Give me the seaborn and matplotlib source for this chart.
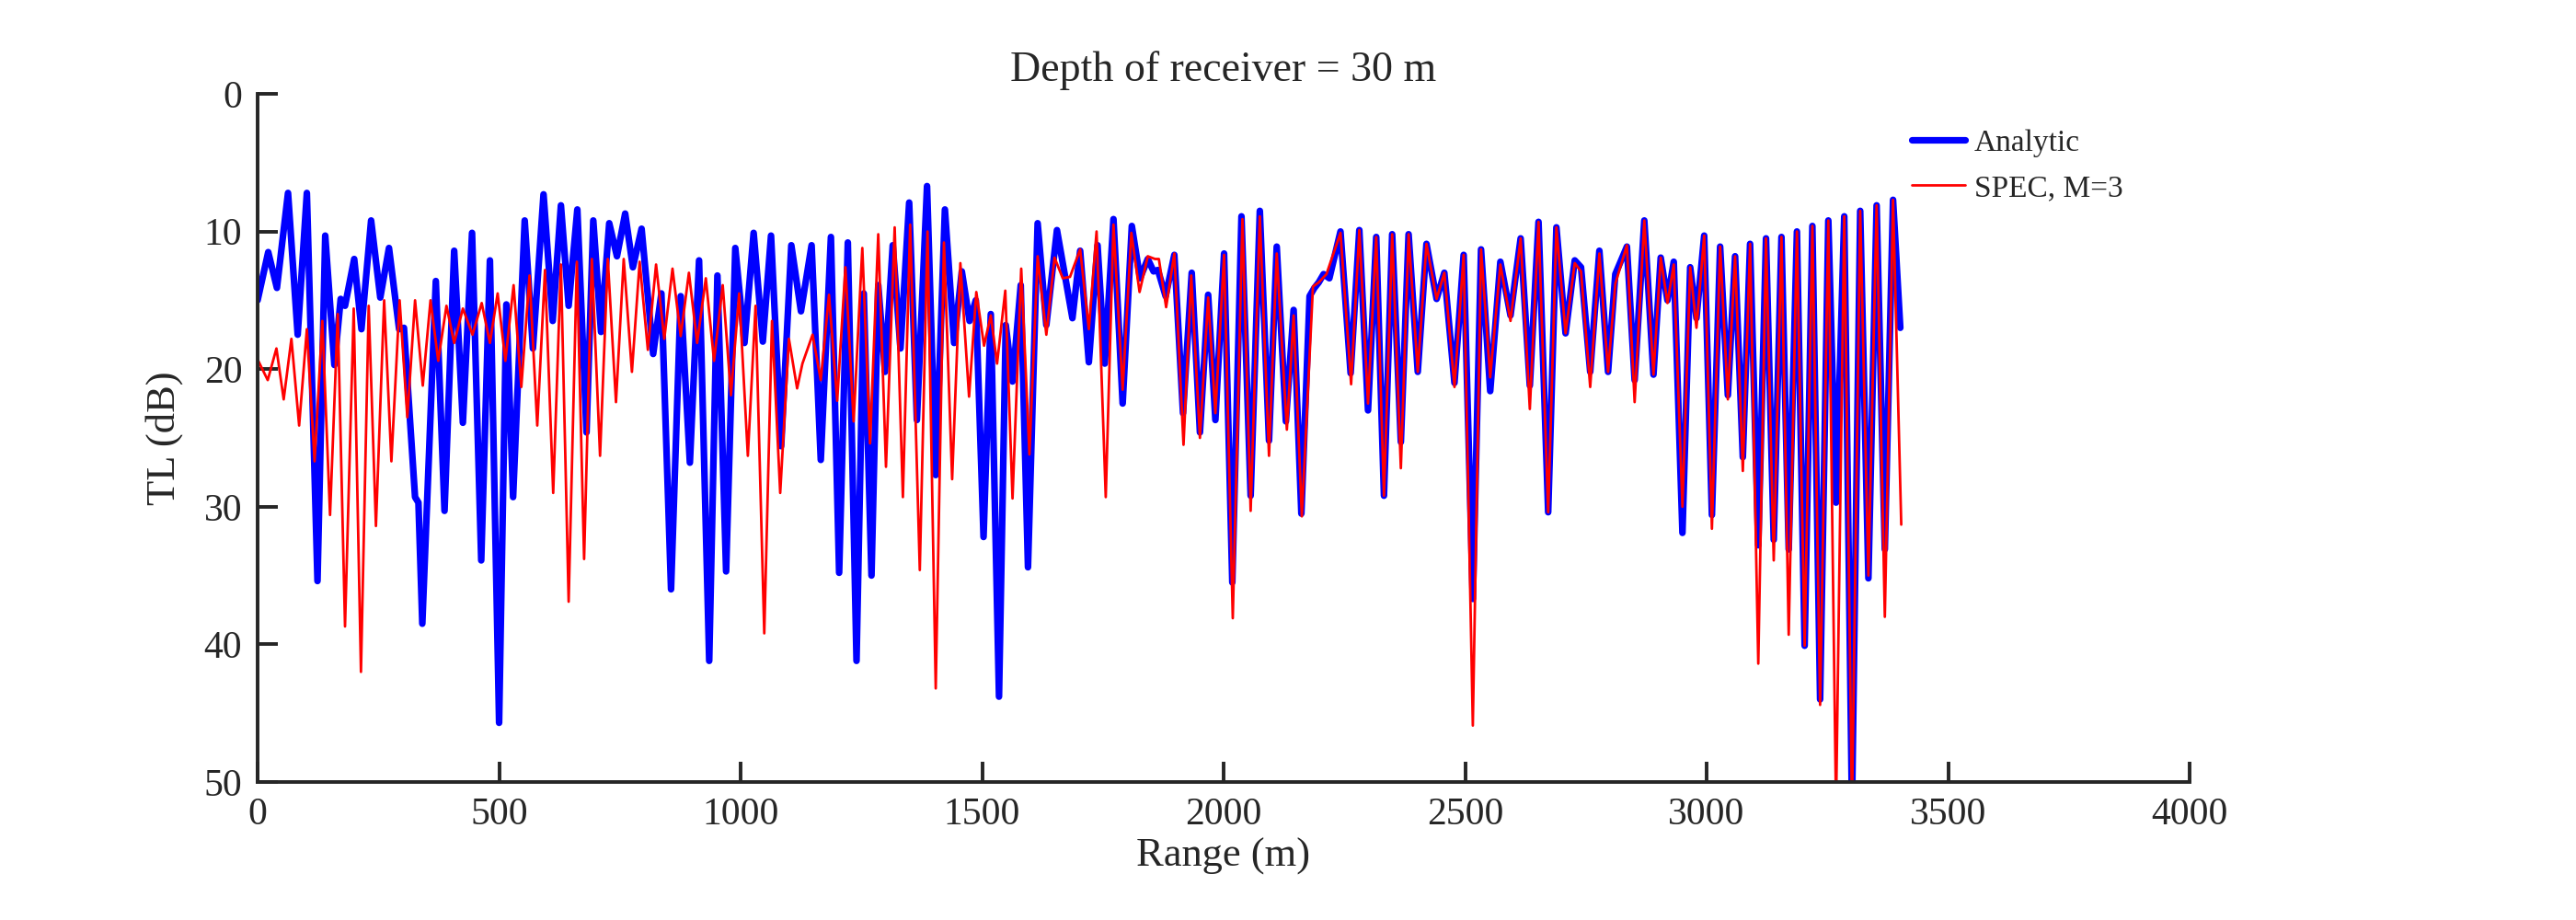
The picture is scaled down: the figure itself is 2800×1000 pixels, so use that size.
import pandas as pd
import matplotlib
matplotlib.use('Agg')
import matplotlib.pyplot as plt
import seaborn as sns

# Transmission loss (range in m, TL in dB)
analytic_range = [
    0, 22, 40, 63, 83, 102, 124, 140, 159, 172, 181, 200, 215, 235, 254, 272,
    293, 303, 326, 333, 341, 369, 387, 407, 425, 444, 463, 481, 500, 515, 529,
    553, 570, 592, 611, 628, 644, 662, 681, 695, 711, 728, 744, 761, 777, 795,
    819, 836, 856, 876, 895, 914, 935, 952, 970, 989, 1008, 1027, 1046, 1063,
    1084, 1105, 1125, 1147, 1166, 1187, 1204, 1222, 1240, 1255, 1271, 1285,
    1299, 1315, 1331, 1349, 1365, 1386, 1404, 1423, 1442, 1458, 1474, 1487,
    1503, 1518, 1535, 1549, 1563, 1580, 1595, 1615, 1633, 1655, 1687, 1703,
    1721, 1739, 1754, 1772, 1791, 1810, 1827, 1843, 1855, 1864, 1880, 1898,
    1916, 1934, 1951, 1968, 1983, 2001, 2018, 2037, 2056, 2075, 2094, 2110,
    2129, 2145, 2161, 2178, 2188, 2197, 2207, 2219, 2242, 2263, 2281, 2299,
    2316, 2332, 2349, 2367, 2383, 2402, 2420, 2441, 2457, 2478, 2497, 2516,
    2533, 2552, 2573, 2594, 2615, 2634, 2652, 2672, 2689, 2708, 2727, 2740,
    2759, 2778, 2796, 2811, 2835, 2851, 2871, 2890, 2905, 2919, 2932, 2950,
    2966, 2979, 2995, 3011, 3028, 3044, 3059, 3075, 3090, 3107, 3123, 3139,
    3155, 3170, 3187, 3203, 3219, 3235, 3252, 3268, 3285, 3301, 3318, 3335,
    3352, 3369, 3386, 3401,
]
analytic_tl = [
    15.0, 11.5, 14.1, 7.2, 17.5, 7.2, 35.4, 10.3, 19.7, 14.9, 15.4, 12.0, 17.1,
    9.2, 14.8, 11.2, 17.1, 17.0, 29.3, 29.7, 38.5, 13.6, 30.3, 11.4, 23.9,
    10.1, 33.9, 12.1, 45.7, 15.3, 29.3, 9.2, 18.5, 7.3, 16.5, 8.1, 15.4, 8.4,
    24.6, 9.2, 17.3, 9.4, 11.8, 8.7, 12.6, 9.8, 18.9, 14.5, 36.0, 14.7, 26.8,
    12.1, 41.2, 13.2, 34.7, 11.2, 18.1, 10.1, 18.0, 10.3, 25.6, 11.0, 15.8,
    11.0, 26.6, 10.4, 34.8, 10.8, 41.2, 14.5, 35.0, 13.9, 20.2, 11.0, 18.5,
    7.9, 23.7, 6.7, 27.7, 8.4, 18.1, 12.9, 16.5, 15.0, 32.2, 16.0, 43.8, 16.8,
    20.9, 13.9, 34.4, 9.4, 16.8, 9.9, 16.3, 11.4, 19.5, 11.0, 19.6, 9.1, 22.5,
    9.6, 13.4, 12.0, 12.9, 12.8, 14.7, 11.7, 23.2, 13.0, 24.6, 14.6, 23.7,
    11.6, 35.5, 8.9, 29.2, 8.5, 25.2, 11.1, 23.8, 15.7, 30.5, 14.7, 14.1,
    13.7, 13.1, 13.4, 10.0, 20.3, 9.9, 23.0, 10.4, 29.2, 10.2, 25.3, 10.2,
    20.2, 10.9, 14.9, 13.0, 21.0, 11.7, 36.7, 11.3, 21.6, 12.2, 16.1, 10.5,
    21.2, 9.3, 30.4, 9.7, 17.4, 12.1, 12.6, 20.2, 11.4, 20.2, 13.1, 11.1,
    20.8, 9.2, 20.4, 11.9, 15.0, 12.2, 31.9, 12.6, 16.3, 10.3, 30.6, 11.1,
    21.9, 11.8, 26.4, 10.9, 32.8, 10.5, 32.4, 10.4, 33.1, 10.0, 40.1, 9.6,
    44.0, 9.2, 29.7, 8.9, 52.0, 8.5, 35.2, 8.1, 33.1, 7.7, 17.0,
]

spec_range = [
    0, 21, 39, 54, 70, 86, 102, 118, 134, 150, 166, 181, 199, 214, 230, 245,
    262, 277, 294, 310, 326, 342, 358, 374, 391, 407, 425, 445, 464, 481, 497,
    513, 530, 546, 563, 579, 595, 612, 628, 644, 661, 676, 692, 709, 725, 742,
    758, 775, 791, 808, 825, 842, 859, 876, 893, 910, 928, 945, 963, 980, 997,
    1015, 1031, 1049, 1065, 1082, 1100, 1117, 1128, 1149, 1166, 1183, 1200,
    1217, 1234, 1252, 1268, 1285, 1301, 1319, 1336, 1351, 1371, 1387, 1404,
    1421, 1438, 1455, 1473, 1488, 1504, 1518, 1531, 1548, 1563, 1581, 1598,
    1615, 1633, 1650, 1667, 1682, 1703, 1721, 1737, 1756, 1772, 1791, 1809,
    1826, 1843, 1858, 1866, 1881, 1898, 1917, 1933, 1951, 1968, 1983, 2001,
    2019, 2039, 2056, 2075, 2094, 2110, 2131, 2145, 2162, 2185, 2197, 2213,
    2242, 2264, 2281, 2299, 2316, 2332, 2349, 2367, 2383, 2402, 2420, 2441,
    2457, 2478, 2497, 2516, 2533, 2552, 2573, 2594, 2615, 2634, 2652, 2672,
    2689, 2708, 2727, 2740, 2759, 2778, 2796, 2811, 2835, 2851, 2871, 2890,
    2905, 2919, 2932, 2950, 2966, 2979, 2995, 3011, 3028, 3044, 3059, 3075,
    3090, 3107, 3123, 3139, 3155, 3170, 3187, 3203, 3219, 3235, 3252, 3268,
    3285, 3301, 3318, 3335, 3352, 3369, 3386, 3403,
]
spec_tl = [
    19.3, 20.8, 18.5, 22.2, 17.8, 24.1, 17.1, 26.7, 16.5, 30.6, 16.0, 38.7,
    15.6, 42.0, 15.4, 31.4, 15.0, 26.7, 15.0, 23.5, 15.0, 21.2, 15.0, 19.4,
    15.4, 18.1, 15.6, 17.5, 15.2, 18.1, 14.5, 19.4, 13.9, 21.3, 13.2, 24.1,
    12.8, 29.0, 12.4, 36.9, 12.2, 33.8, 12.0, 26.3, 12.0, 22.4, 12.0, 20.2,
    12.2, 18.6, 12.4, 17.8, 12.7, 17.6, 13.0, 18.1, 13.4, 19.4, 13.9, 21.9,
    14.5, 26.3, 15.4, 39.2, 16.5, 29.0, 17.8, 21.4, 19.6, 17.5, 20.8, 14.6,
    22.3, 12.6, 23.8, 11.2, 25.4, 10.2, 27.1, 9.7, 29.3, 9.5, 34.6, 10.0,
    43.2, 10.8, 28.0, 12.3, 22.0, 14.4, 18.3, 16.1, 19.6, 14.3, 29.4, 12.7,
    26.2, 11.8, 17.5, 11.9, 13.4, 13.3, 11.3, 17.1, 10.0, 29.3, 9.5, 21.5,
    10.1, 14.4, 11.8, 12.0, 12.0, 15.5, 11.6, 25.5, 13.2, 25.0, 14.8, 23.2,
    11.7, 38.1, 9.1, 30.3, 8.9, 26.3, 11.6, 24.4, 16.1, 30.7, 14.0, 13.7,
    13.1, 10.1, 21.1, 9.9, 22.5, 10.4, 29.2, 10.2, 27.2, 10.2, 20.2, 10.9,
    14.9, 13.0, 21.3, 11.7, 45.9, 11.3, 20.6, 12.4, 16.5, 10.5, 22.9, 9.3,
    30.4, 9.7, 17.4, 12.3, 12.9, 21.3, 11.6, 20.2, 13.8, 11.0, 22.4, 9.2,
    20.4, 11.9, 15.2, 12.4, 30.0, 12.6, 17.0, 10.3, 31.6, 11.1, 22.2, 11.8,
    27.4, 10.9, 41.4, 10.5, 33.9, 10.4, 39.3, 10.0, 40.1, 9.6, 44.4, 9.2,
    52.0, 8.9, 52.0, 8.5, 35.0, 8.1, 38.0, 7.7, 31.3,
]

x_ticks = [0, 500, 1000, 1500, 2000, 2500, 3000, 3500, 4000]
y_ticks = [0, 10, 20, 30, 40, 50]

df_a = pd.DataFrame({'Range': analytic_range, 'TL': analytic_tl})
df_s = pd.DataFrame({'Range': spec_range, 'TL': spec_tl})

sns.set_style('ticks')
plt.rcParams['font.family'] = ['Liberation Serif', 'DejaVu Serif']

fig = plt.figure(figsize=(14, 5), dpi=200)
ax = fig.add_axes([0.100, 0.150, 0.750, 0.748])

sns.lineplot(data=df_a, x='Range', y='TL', ax=ax, color='#0000ff', lw=2.6,
             label='Analytic', sort=False, estimator=None)
sns.lineplot(data=df_s, x='Range', y='TL', ax=ax, color='#ff0000', lw=1.0,
             label='SPEC, M=3', sort=False, estimator=None)

ax.set_xlim(0, 4000)
ax.set_ylim(50, 0)
ax.set_xticks(x_ticks)
ax.set_yticks(y_ticks)
ax.set_xlabel('Range (m)', fontsize=16, labelpad=2)
ax.set_ylabel('TL (dB)', fontsize=16, labelpad=8)
ax.set_title('Depth of receiver = 30 m', fontsize=16.5, pad=5)

for side in ['top', 'right']:
    ax.spines[side].set_visible(False)
for side in ['left', 'bottom']:
    ax.spines[side].set_linewidth(1.4)
    ax.spines[side].set_color('#262626')
ax.tick_params(direction='in', length=8, width=1.4, color='#262626',
               labelsize=15, labelcolor='#262626', pad=6)

leg = ax.legend(loc='upper left', bbox_to_anchor=(0.856, 0.949), frameon=False,
                fontsize=12, handlelength=1.75, handletextpad=0.3,
                labelspacing=0.56, borderpad=0, borderaxespad=0)

fig.savefig('out.png', dpi=200)
plt.close(fig)
